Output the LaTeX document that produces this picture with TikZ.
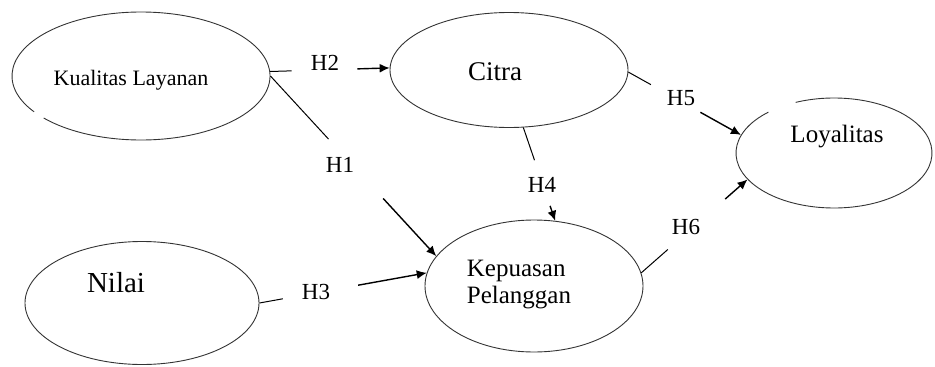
\documentclass[tikz,border=0pt]{standalone}
\usepackage{fontspec}
\setmainfont{Liberation Serif}
\usetikzlibrary{positioning, arrows.meta, shapes.geometric, calc}

\begin{document}
\begin{tikzpicture}[
	x=1pt, y=-1pt,
	% Styles
	construct/.style={ellipse, draw=black!80, line width=0.9pt, inner sep=0pt},
	rim/.style={draw=black!80, line width=0.9pt},
	hyp/.style={font=\fontsize{23}{26}\selectfont, inner sep=0pt},
	stub/.style={line width=1pt},
	effect/.style={-{Latex[length=10pt,width=9pt]}, line width=1.4pt},
	]
	\useasboundingbox (0,0) rectangle (935,367);
	
	% --- 1. Constructs ---
	\node[construct, draw=none, minimum width=258pt, minimum height=128pt,
		label={[xshift=-10pt, yshift=-4pt, font=\fontsize{22}{26}\selectfont]center:Kualitas Layanan}] (KL) at (141,76) {};
	\node[construct, minimum width=238pt, minimum height=115pt,
		label={[xshift=-14pt, yshift=-2pt, font=\fontsize{27}{30}\selectfont]center:Citra}] (CI) at (509,70) {};
	\node[construct, draw=none, minimum width=196pt, minimum height=110pt,
		label={[xshift=3pt, yshift=16pt, font=\fontsize{25}{28}\selectfont]center:Loyalitas}] (LO) at (834,153) {};
	\node[construct, minimum width=234pt, minimum height=123pt,
		label={[xshift=-26pt, yshift=20pt, font=\fontsize{29}{32}\selectfont]center:Nilai}] (NI) at (142,303) {};
	\node[construct, minimum width=218pt, minimum height=132pt,
		label={[xshift=-15pt, yshift=1pt, align=left, font=\fontsize{25}{27}\selectfont]center:Kepuasan\\Pelanggan}] (KP) at (534,286) {};
	
	% open outlines (small break in the rim)
	\draw[rim] (KL.center) ++(221:129pt and 64pt) arc[start angle=221, end angle=574, x radius=129pt, y radius=64pt];
	\draw[rim] (LO.center) ++(132:98pt and 55pt) arc[start angle=132, end angle=473, x radius=98pt, y radius=55pt];
	
	% --- 2. Hypotheses (line - label - arrow) ---
	% H2: Kualitas Layanan -> Citra
	\path (KL.2) -- (CI.179) coordinate[pos=0.18] (H2_a) coordinate[pos=0.73] (H2_b);
	\draw[stub] (KL.2) -- (H2_a);
	\draw[effect] (H2_b) -- (CI.179);
	\node[hyp] (H2) at (325,63) {H2};
	
	% H1: Kualitas Layanan -> Kepuasan Pelanggan
	\path (KL.east) -- (KP.163) coordinate[pos=0.35] (H1_a) coordinate[pos=0.68] (H1_b);
	\draw[stub] (KL.east) -- (H1_a);
	\draw[effect] (H1_b) -- (KP.163);
	\node[hyp] (H1) at (340,165) {H1};
	
	% H3: Nilai -> Kepuasan Pelanggan
	\path (NI.east) -- (KP.173) coordinate[pos=0.14] (H3_a) coordinate[pos=0.59] (H3_b);
	\draw[stub] (NI.east) -- (H3_a);
	\draw[effect] (H3_b) -- (KP.173);
	\node[hyp] (H3) at (316,292) {H3};
	
	% H4: Citra -> Kepuasan Pelanggan
	\path (CI.-76) -- (KP.72) coordinate[pos=0.35] (H4_a) coordinate[pos=0.84] (H4_b);
	\draw[stub] (CI.-76) -- (H4_a);
	\draw[effect] (H4_b) -- (KP.72);
	\node[hyp] (H4) at (542,185) {H4};
	
	% H5: Citra -> Loyalitas
	\path (CI.-1) -- (LO.169) coordinate[pos=0.2] (H5_a) coordinate[pos=0.64] (H5_b);
	\draw[stub] (CI.-1) -- (H5_a);
	\draw[effect] (H5_b) -- (LO.169);
	\node[hyp] (H5) at (681,98) {H5};
	
	% H6: Kepuasan Pelanggan -> Loyalitas
	\path (KP.7) -- (LO.197) coordinate[pos=0.25] (H6_a) coordinate[pos=0.79] (H6_b);
	\draw[stub] (KP.7) -- (H6_a);
	\draw[effect] (H6_b) -- (LO.197);
	\node[hyp] (H6) at (686,227) {H6};
	
\end{tikzpicture}
\end{document}
